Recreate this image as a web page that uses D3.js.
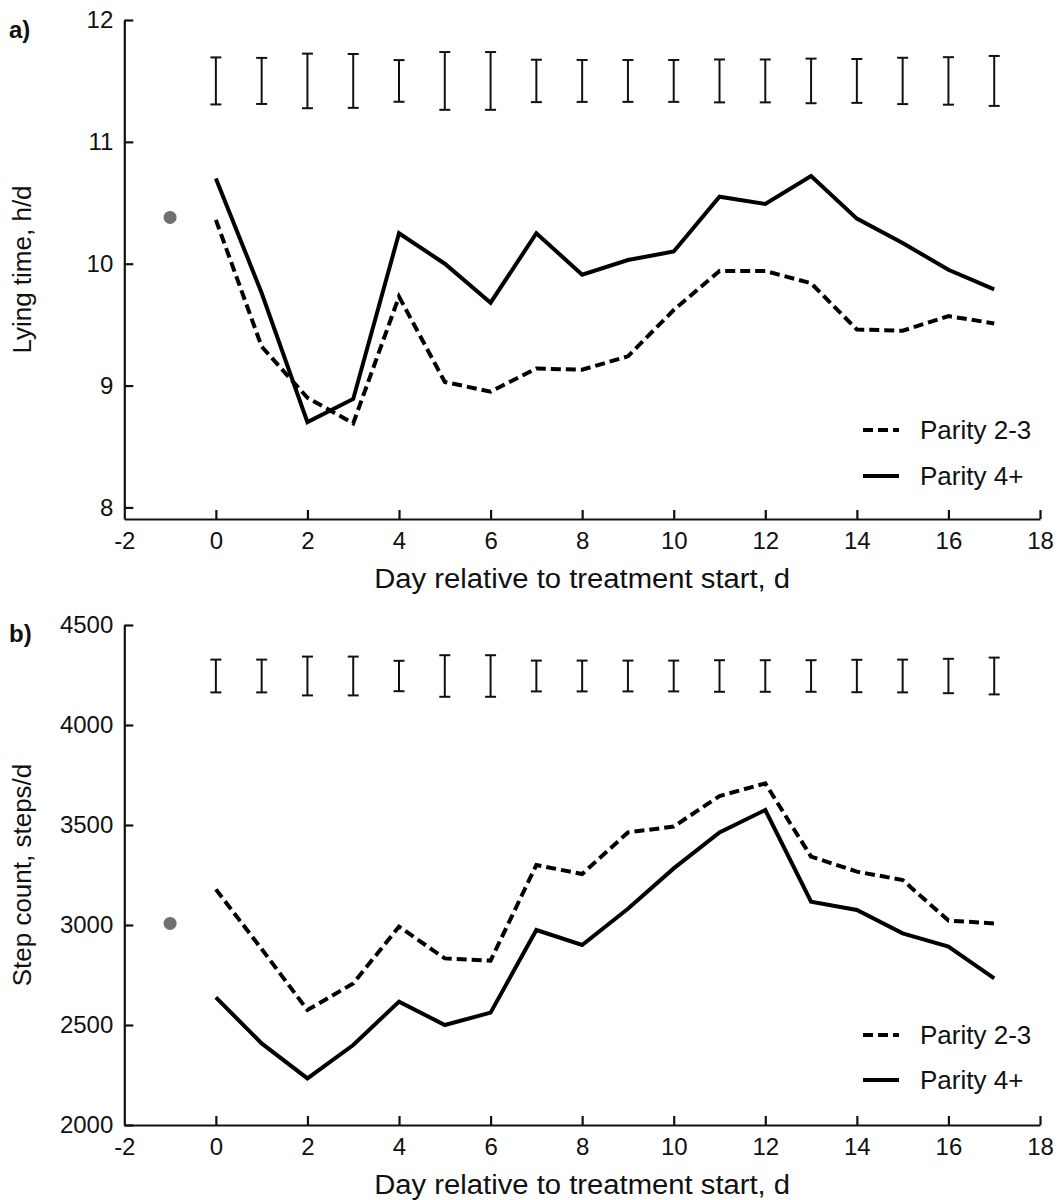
<!DOCTYPE html>
<html>
<head>
<meta charset="utf-8">
<script src="https://cdn.jsdelivr.net/npm/d3@7"></script>
<style>
  html, body { margin: 0; padding: 0; background: #fff; }
  svg { display: block; font-family: "Liberation Sans", Arial, sans-serif; }
</style>
</head>
<body>
<svg id="chart" width="1058" height="1200"></svg>
<script>
// Days after treatment start
const days = [0, 1, 2, 3, 4, 5, 6, 7, 8, 9, 10, 11, 12, 13, 14, 15, 16, 17];
const xTicks = [-2, 0, 2, 4, 6, 8, 10, 12, 14, 16, 18];

// Pre-treatment baseline (day -1)
const baselineDay = -1;

// a) Lying time, h/d
const lyingParity23 = [10.36, 9.32, 8.90, 8.69, 9.73, 9.03, 8.95, 9.14, 9.13, 9.24, 9.62, 9.94, 9.94, 9.84, 9.46, 9.45, 9.57, 9.51];
const lyingParity4 = [10.70, 9.76, 8.70, 8.89, 10.25, 10.00, 9.68, 10.25, 9.91, 10.03, 10.10, 10.55, 10.49, 10.72, 10.37, 10.17, 9.95, 9.79];
const lyingBaseline = 10.38;
const lyingSE = [0.193, 0.189, 0.224, 0.221, 0.171, 0.237, 0.237, 0.174, 0.172, 0.172, 0.172, 0.176, 0.176, 0.183, 0.180, 0.190, 0.195, 0.205];
const lyingSECentre = 11.5;
const lyingTicks = [8, 9, 10, 11, 12];

// b) Step count, steps/d
const stepsParity23 = [3178, 2880, 2575, 2708, 2992, 2833, 2822, 3300, 3255, 3463, 3492, 3645, 3708, 3342, 3267, 3225, 3022, 3008];
const stepsParity4 = [2638, 2408, 2233, 2400, 2617, 2500, 2562, 2975, 2900, 3081, 3283, 3463, 3575, 3117, 3075, 2958, 2892, 2733];
const stepsBaseline = 3008;
const stepsSE = [82, 82, 97, 97, 76, 104, 104, 77, 77, 77, 77, 79, 79, 79, 81, 82, 86, 92];
const stepsSECentre = 4245;
const stepsTicks = [2000, 2500, 3000, 3500, 4000, 4500];

const seriesNames = ["Parity 2-3", "Parity 4+"];
const xTitle = "Day relative to treatment start, d";

const svg = d3.select("#chart");
const fmt = d => String(d); // plain integers, ASCII hyphen for negatives

const x = d3.scaleLinear().domain([-2, 18]).range([124.3, 1040]);

const panels = [
  {
    tag: "a)", yTitle: "Lying time, h/d",
    y: d3.scaleLinear().domain([7.905, 12]).range([519, 20]),
    ticks: lyingTicks, dashed: lyingParity23, solid: lyingParity4,
    base: lyingBaseline, se: lyingSE, seCentre: lyingSECentre,
    tagY: 38, legendY: [430, 476]
  },
  {
    tag: "b)", yTitle: "Step count, steps/d",
    y: d3.scaleLinear().domain([2000, 4500]).range([1125, 625]),
    ticks: stepsTicks, dashed: stepsParity23, solid: stepsParity4,
    base: stepsBaseline, se: stepsSE, seCentre: stepsSECentre,
    tagY: 642, legendY: [1035, 1080]
  }
];

panels.forEach(p => {
  const g = svg.append("g");
  const y = p.y;
  const [yBottom, yTop] = y.range();

  // Axes with inward ticks
  const yAxis = d3.axisLeft(y).tickValues(p.ticks).tickFormat(fmt)
    .tickSizeInner(-9).tickSizeOuter(0).tickPadding(11);
  const xAxis = d3.axisBottom(x).tickValues(xTicks).tickFormat(fmt)
    .tickSizeInner(-9).tickSizeOuter(0).tickPadding(10);

  const ya = g.append("g").attr("transform", `translate(${x.range()[0]},0)`).call(yAxis);
  const xa = g.append("g").attr("transform", `translate(0,${yBottom})`).call(xAxis);

  [ya, xa].forEach(a => {
    a.selectAll("path.domain").attr("stroke", "#111").attr("stroke-width", 2.2);
    a.selectAll(".tick line").attr("stroke", "#111").attr("stroke-width", 2.2);
    a.selectAll(".tick text").attr("fill", "#111").style("font-size", "24px")
      .style("font-family", "'Liberation Sans', Arial, sans-serif");
  });
  xa.selectAll(".tick text").attr("dy", "0.75em").attr("y", 12);
  // Tick at -2 sits on the y axis
  xa.selectAll(".tick").filter(d => d === -2).select("line").remove();

  // Axis titles
  g.append("text")
    .attr("x", (x.range()[0] + x.range()[1]) / 2)
    .attr("y", yBottom + 69)
    .attr("text-anchor", "middle")
    .attr("textLength", 416).attr("lengthAdjust", "spacingAndGlyphs")
    .style("font-size", "27px").attr("fill", "#111")
    .text(xTitle);

  g.append("text")
    .attr("transform", `translate(31,${(yBottom + yTop) / 2}) rotate(-90)`)
    .attr("text-anchor", "middle")
    .style("font-size", "26px").attr("fill", "#111")
    .text(p.yTitle);

  // Panel tag
  g.append("text")
    .attr("x", 9).attr("y", p.tagY)
    .style("font-size", "24px").style("font-weight", "bold").attr("fill", "#111")
    .text(p.tag);

  // Standard error bars along the top
  const eb = g.append("g").attr("stroke", "#111").attr("stroke-width", 2);
  days.forEach((d, i) => {
    const cx = x(d);
    const top = y(p.seCentre + p.se[i]);
    const bot = y(p.seCentre - p.se[i]);
    eb.append("line").attr("x1", cx).attr("x2", cx).attr("y1", top).attr("y2", bot);
    eb.append("line").attr("x1", cx - 5.5).attr("x2", cx + 5.5).attr("y1", top).attr("y2", top);
    eb.append("line").attr("x1", cx - 5.5).attr("x2", cx + 5.5).attr("y1", bot).attr("y2", bot);
  });

  // Baseline point
  g.append("circle")
    .attr("cx", x(baselineDay)).attr("cy", y(p.base)).attr("r", 6.5)
    .attr("fill", "#707070");

  // Series lines
  const line = d3.line().x((v, i) => x(days[i])).y(v => y(v));
  g.append("path").datum(p.dashed)
    .attr("d", line).attr("fill", "none").attr("stroke", "#000")
    .attr("stroke-width", 4).attr("stroke-dasharray", "10,5");
  g.append("path").datum(p.solid)
    .attr("d", line).attr("fill", "none").attr("stroke", "#000")
    .attr("stroke-width", 4).attr("stroke-linejoin", "miter");

  // Legend
  const lg = g.append("g");
  seriesNames.forEach((name, k) => {
    const ly = p.legendY[k];
    lg.append("line").attr("x1", 863).attr("x2", 899).attr("y1", ly).attr("y2", ly)
      .attr("stroke", "#000").attr("stroke-width", 4)
      .attr("stroke-dasharray", k === 0 ? "10,5" : null);
    lg.append("text").attr("x", 920).attr("y", ly).attr("dy", "0.35em")
      .style("font-size", "26px").attr("fill", "#111").text(name);
  });
});
</script>
</body>
</html>
